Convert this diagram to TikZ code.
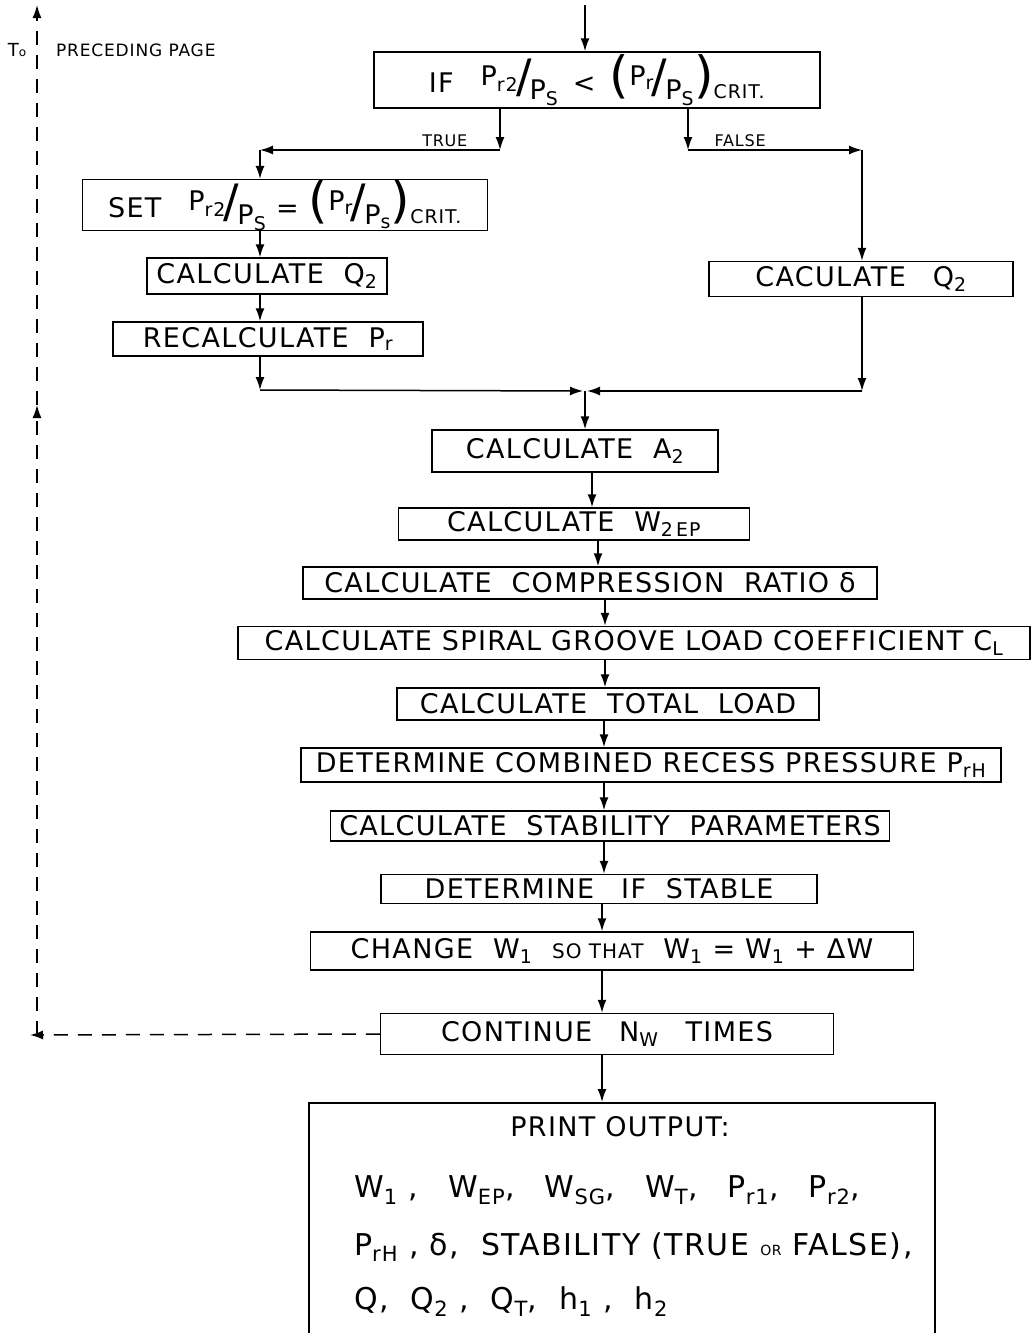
\documentclass[tikz,border=0pt]{standalone}
\usepackage{fontspec}
\setmainfont{DejaVu Sans}[LetterSpace=5]
\usetikzlibrary{arrows.meta,positioning,calc}

\newcommand\sub[1]{\textsubscript{#1}}
\newcommand\pfrac[2]{\raisebox{7pt}{#1}\kern-2pt{\fontsize{46}{46}\selectfont/}\kern-2pt\raisebox{-7pt}{#2}}
\newcommand\bpar[1]{{\fontsize{50}{50}\selectfont#1}}

\begin{document}
\begin{tikzpicture}[x=1pt, y=-1pt, line width=1.5pt,
      >={Latex[length=13pt,width=9pt]},
      font=\fontsize{27}{31}\selectfont,
      box/.style 2 args={draw, inner sep=0pt, minimum width=#1, minimum height=#2},
      lab/.style={font=\fontsize{16}{18}\selectfont, inner sep=3pt},
      outline/.style={anchor=west, font=\fontsize{30}{34}\selectfont},
      loopline/.style={dash pattern=on 14pt off 10pt}
    ]
    \clip (0,0) rectangle (1032,1333);
    \node[box={446pt}{56pt}] (test)  at (597,80)  {IF\quad\pfrac{P\sub{r2}}{P\sub{S}} \,<\, \bpar{(}\pfrac{P\sub{r}}{P\sub{S}}\bpar{)}\sub{CRIT.}};
    \node[box={405pt}{50pt}] (set)   at (285,205) {SET\quad\pfrac{P\sub{r2}}{P\sub{S}} = \bpar{(}\pfrac{P\sub{r}}{P\sub{s}}\bpar{)}\sub{CRIT.}};
    \node[box={240pt}{36pt}] (qleft) at (267,276) {CALCULATE\ \ Q\sub{2}};
    \node[box={310pt}{34pt}] (recal) at (268,339) {RECALCULATE\ \ P\sub{r}};
    \node[box={304pt}{35pt}] (qright) at (861,279) {CACULATE\quad Q\sub{2}};
    \node[box={286pt}{42pt}] (area)  at (575,451) {CALCULATE\ \ A\sub{2}};
    \node[box={351pt}{32pt}] (wep)   at (574,524) {CALCULATE\ \ W\sub{2\,EP}};
    \node[box={574pt}{32pt}] (comp)  at (590,583) {CALCULATE\ \ COMPRESSION\ \ RATIO\ δ};
    \node[box={792pt}{33pt}] (spiral) at (634,643) {CALCULATE SPIRAL GROOVE LOAD COEFFICIENT C\sub{L}};
    \node[box={422pt}{32pt}] (total) at (608,704) {CALCULATE\ \ TOTAL\ \ LOAD};
    \node[box={700pt}{34pt}] (recess) at (651,765) {DETERMINE COMBINED RECESS PRESSURE P\sub{rH}};
    \node[box={559pt}{30pt}] (stab)  at (610,826) {CALCULATE\ \ STABILITY\ \ PARAMETERS};
    \node[box={436pt}{29pt}] (ifst)  at (599,889) {DETERMINE\quad IF\ \ STABLE};
    \node[box={603pt}{38pt}] (chg)   at (612,951) {CHANGE\ \ W\sub{1}\ \ {\fontsize{20}{22}\selectfont SO THAT}\ \ W\sub{1} = W\sub{1} + ΔW};
    \node[box={453pt}{41pt}] (cont)  at (607,1034) {CONTINUE\quad N\sub{W}\quad TIMES};
    \node[box={626pt}{250pt}, anchor=north] (out) at (622,1102) {};
    \node (ptitle) at (620,1127) {PRINT OUTPUT:};
    \node[outline] (pa) at (350,1190) {W\sub{1} ,\quad W\sub{EP},\quad W\sub{SG},\quad W\sub{T},\quad P\sub{r1},\quad P\sub{r2},};
    \node[outline] (pb) at (350,1247) {P\sub{rH} , δ,\ \ STABILITY (TRUE {\fontsize{14}{16}\selectfont OR} FALSE),};
    \node[outline] (pc) at (350,1302) {Q,\ \ Q\sub{2} ,\ \ Q\sub{T},\ \ h\sub{1} ,\ \ h\sub{2}};
    % return to the preceding page
    \node (to) at (17,50) {\fontsize{18}{20}\selectfont T{\fontsize{12}{13}\selectfont o}};
    \node[anchor=west, font=\fontsize{17}{19}\selectfont] (prev) at (52,50) {PRECEDING PAGE};

    % branches
    \coordinate (entry) at (585,5);
    \coordinate (tb) at (500,150);
    \coordinate (tl) at (260,150);
    \coordinate (fb) at (688,150);
    \coordinate (fr) at (862,150);
    \draw[->] (entry) -- (test.north -| entry);
    \draw[->] (test.south -| tb) -- (tb);
    \draw[->] (tb) -- node[lab,above,pos=0.23]{TRUE} (tl);
    \draw[->] (tl) -- (set.north -| tl);
    \draw[->] (test.south -| fb) -- (fb);
    \draw[->] (fb) -- node[lab,above,pos=0.3]{FALSE} (fr);
    \draw[->] (fr) -- (qright.north -| fr);
    \draw[->] (set.south -| tl) -- (qleft.north -| tl);
    \draw[->] (qleft.south -| tl) -- (recal.north -| tl);
    % join
    \coordinate (jl) at (260,390);
    \coordinate (jm) at (585,391);
    \coordinate (jr) at (862,391);
    \draw[->] (recal.south -| jl) -- (jl);
    \draw[->] (jl) -- ([xshift=-2pt]jm);
    \draw[->] (qright.south -| jr) -- (jr);
    \draw[->] (jr) -- ([xshift=2pt]jm);
    \draw[->] (jm) -- (area.north -| jm);
    % main column
    \foreach \a/\b/\x in {area/wep/592, wep/comp/598, comp/spiral/605, spiral/total/605,
                          total/recess/604, recess/stab/604, stab/ifst/604, ifst/chg/602,
                          chg/cont/602, cont/out/602}{
      \coordinate (sp) at (\x,0);
      \draw[->] (\a.south -| sp) -- (\b.north -| sp);
    }
    % loop back
    \coordinate (lc) at (30,1035);
    \coordinate (mid) at (37,405);
    \coordinate (top) at (37,5);
    \draw[loopline,->] (cont.west) -- (lc);
    \draw[loopline,->] (lc -| top) -- (mid);
    \draw[loopline,->] (mid) -- (top);
  \end{tikzpicture}
\end{document}
